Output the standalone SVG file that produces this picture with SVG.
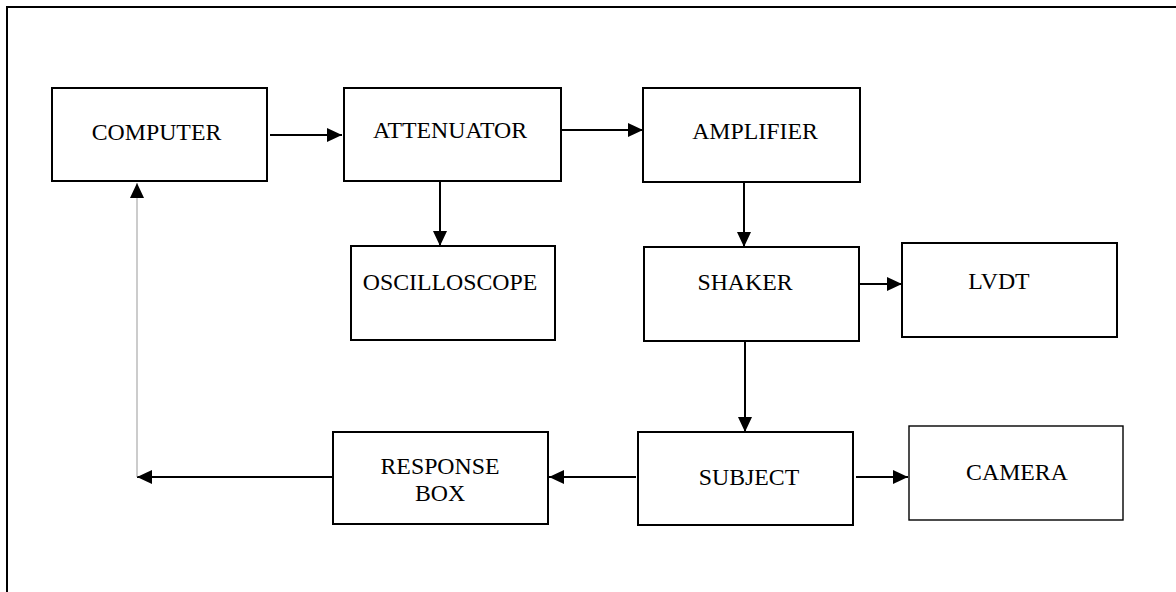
<svg xmlns="http://www.w3.org/2000/svg" width="1176" height="592" viewBox="0 0 1176 592">
<style>
.box{fill:#fff;stroke:#000;stroke-width:2}
.thin{fill:#fff;stroke:#000;stroke-width:1.4}
.lbl{font-family:"Liberation Serif","Times New Roman",serif;font-size:23.8px;fill:#000;text-anchor:middle}
.c{fill:none;stroke:#000;stroke-width:2}
.g{fill:none;stroke:#999;stroke-width:1}
</style>
<defs>
<marker id="ah" markerUnits="userSpaceOnUse" markerWidth="15" markerHeight="14" refX="15" refY="7" orient="auto">
<path d="M0,0 L15,7 L0,14 z" fill="#000"/>
</marker>
</defs>
<rect width="1176" height="592" fill="#fff"/>
<path d="M7,600 V7 H1180" fill="none" stroke="#000" stroke-width="2"/>
<g id="connectors">
<line class="c" x1="270" y1="135" x2="342" y2="135" marker-end="url(#ah)"/>
<line class="c" x1="561" y1="130" x2="643" y2="130" marker-end="url(#ah)"/>
<line class="c" x1="440" y1="181" x2="440" y2="246" marker-end="url(#ah)"/>
<line class="c" x1="744" y1="182" x2="744" y2="247" marker-end="url(#ah)"/>
<line class="c" x1="859" y1="284" x2="902" y2="284" marker-end="url(#ah)"/>
<line class="c" x1="745" y1="341" x2="745" y2="432" marker-end="url(#ah)"/>
<line class="c" x1="856" y1="477" x2="908" y2="477" marker-end="url(#ah)"/>
<line class="c" x1="636" y1="477" x2="549" y2="477" marker-end="url(#ah)"/>
<line class="c" x1="333" y1="477" x2="137" y2="477" marker-end="url(#ah)"/>
<line class="g" x1="137" y1="477" x2="137" y2="195"/>
<line class="g" x1="137" y1="196" x2="137" y2="183" marker-end="url(#ah)"/>
</g>
<g id="computer"><rect class="box" x="52" y="88" width="215" height="93"/><text class="lbl" x="156.5" y="140">COMPUTER</text></g>
<g id="attenuator"><rect class="box" x="344" y="88" width="217" height="93"/><text class="lbl" x="450" y="138">ATTENUATOR</text></g>
<g id="amplifier"><rect class="box" x="643" y="88" width="217" height="94"/><text class="lbl" x="755" y="139">AMPLIFIER</text></g>
<g id="oscilloscope"><rect class="box" x="351" y="246" width="204" height="94"/><text class="lbl" x="450" y="290">OSCILLOSCOPE</text></g>
<g id="shaker"><rect class="box" x="644" y="247" width="215" height="94"/><text class="lbl" x="745" y="290">SHAKER</text></g>
<g id="lvdt"><rect class="box" x="902" y="243" width="215" height="94"/><text class="lbl" x="999" y="289">LVDT</text></g>
<g id="subject"><rect class="box" x="638" y="432" width="215" height="93"/><text class="lbl" x="749" y="485">SUBJECT</text></g>
<g id="camera"><rect class="thin" x="909" y="426" width="214" height="94"/><text class="lbl" x="1017" y="480">CAMERA</text></g>
<g id="response-box"><rect class="box" x="333" y="432" width="215" height="92"/><text class="lbl" x="440" y="474">RESPONSE</text><text class="lbl" x="440" y="501">BOX</text></g>
</svg>
